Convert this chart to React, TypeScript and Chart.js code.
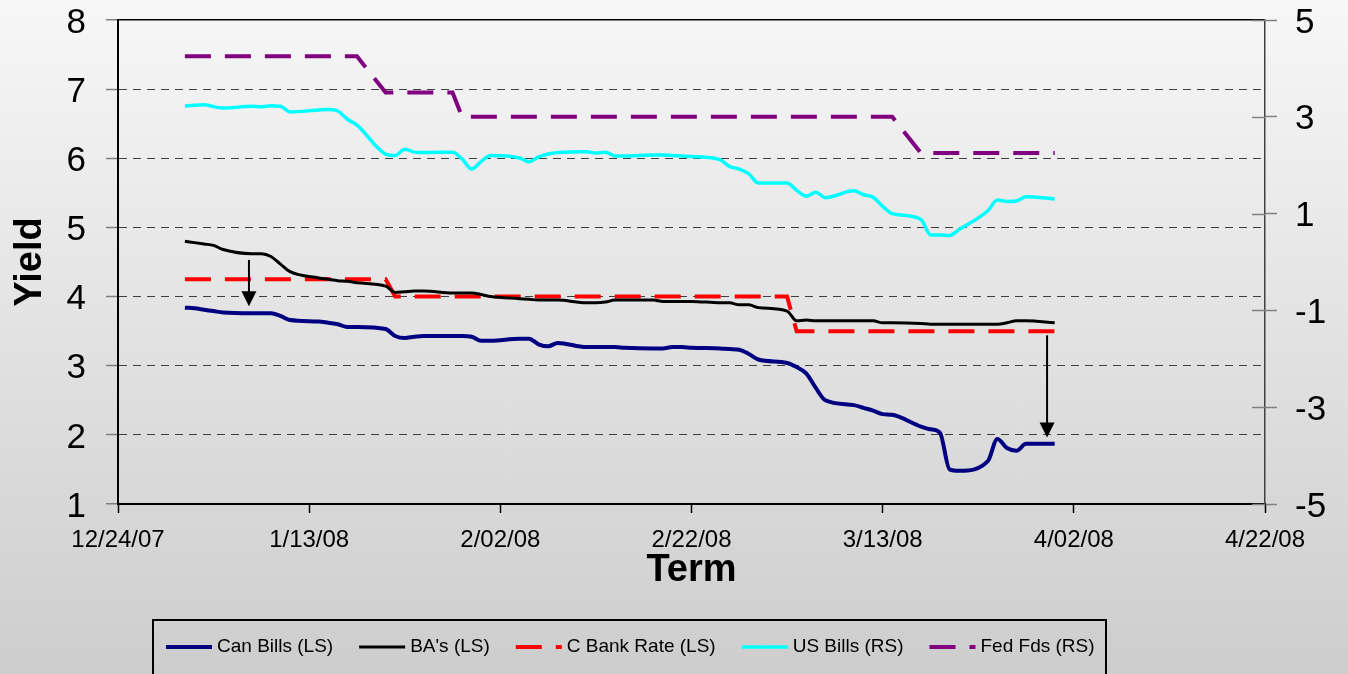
import React, { useEffect, useRef } from 'react';
import { Chart, registerables } from 'chart.js';

Chart.register(...registerables);

// ---------- data ----------
const BASE_DATE = '12/24/07';

const curveDates = [
  '12/31/07', '1/01/08', '1/02/08', '1/03/08', '1/04/08',
  '1/07/08', '1/08/08', '1/09/08', '1/10/08', '1/11/08',
  '1/14/08', '1/15/08', '1/16/08', '1/17/08', '1/18/08',
  '1/21/08', '1/22/08', '1/23/08', '1/24/08', '1/25/08',
  '1/28/08', '1/29/08', '1/30/08', '1/31/08', '2/01/08',
  '2/04/08', '2/05/08', '2/06/08', '2/07/08', '2/08/08',
  '2/11/08', '2/12/08', '2/13/08', '2/14/08', '2/15/08',
  '2/18/08', '2/19/08', '2/20/08', '2/21/08', '2/22/08',
  '2/25/08', '2/26/08', '2/27/08', '2/28/08', '2/29/08',
  '3/03/08', '3/04/08', '3/05/08', '3/06/08', '3/07/08',
  '3/10/08', '3/11/08', '3/12/08', '3/13/08', '3/14/08',
  '3/17/08', '3/18/08', '3/19/08', '3/20/08', '3/21/08',
  '3/24/08', '3/25/08', '3/26/08', '3/27/08', '3/28/08',
  '3/31/08',
];

const canBills = [
  3.84, 3.83, 3.81, 3.79, 3.77,
  3.76, 3.76, 3.76, 3.72, 3.66,
  3.64, 3.62, 3.6, 3.56, 3.56,
  3.53, 3.43, 3.4, 3.42, 3.43,
  3.43, 3.43, 3.42, 3.36, 3.36,
  3.39, 3.39, 3.31, 3.28, 3.33,
  3.27, 3.27, 3.27, 3.27, 3.26,
  3.25, 3.25, 3.27, 3.27, 3.26,
  3.25, 3.24, 3.23, 3.17, 3.09,
  3.04, 2.98, 2.89, 2.68, 2.5,
  2.43, 2.39, 2.35, 2.3, 2.29,
  2.12, 2.08, 2.03, 1.5, 1.48,
  1.62, 1.94, 1.81, 1.77, 1.87,
  1.87,
];

const bas = [
  4.8, 4.78, 4.76, 4.74, 4.68,
  4.62, 4.62, 4.58, 4.47, 4.36,
  4.27, 4.25, 4.23, 4.22, 4.2,
  4.15, 4.06, 4.07, 4.08, 4.08,
  4.05, 4.05, 4.05, 4.03, 4.0,
  3.97, 3.96, 3.95, 3.95, 3.95,
  3.91, 3.91, 3.92, 3.95, 3.95,
  3.95, 3.93, 3.93, 3.93, 3.93,
  3.91, 3.91, 3.88, 3.88, 3.84,
  3.79, 3.65, 3.66, 3.65, 3.65,
  3.65, 3.65, 3.65, 3.62, 3.62,
  3.61, 3.6, 3.6, 3.6, 3.6,
  3.6, 3.6, 3.62, 3.65, 3.65,
  3.62,
];

const usBills = [
  3.22, 3.24, 3.25, 3.21, 3.18,
  3.22, 3.21, 3.23, 3.22, 3.1,
  3.14, 3.15, 3.12, 2.95, 2.83,
  2.23, 2.2, 2.33, 2.27, 2.26,
  2.27, 2.13, 1.92, 2.08, 2.2,
  2.15, 2.07, 2.17, 2.23, 2.26,
  2.28, 2.25, 2.27, 2.19, 2.19,
  2.21, 2.21, 2.2, 2.19, 2.18,
  2.11, 1.97, 1.92, 1.82, 1.63,
  1.63, 1.48, 1.36, 1.44, 1.33,
  1.47, 1.39, 1.34, 1.15, 1.0,
  0.88, 0.56, 0.56, 0.55, 0.67,
  1.06, 1.28, 1.25, 1.26, 1.35,
  1.3,
];

const bankRateDates = ['12/31/07', '1/21/08', '1/22/08', '3/03/08', '3/04/08', '3/31/08'];
const bankRate = [4.25, 4.25, 4.0, 4.0, 3.5, 3.5];

const fedDates = ['12/31/07', '1/18/08', '1/21/08', '1/28/08', '1/29/08', '3/14/08', '3/17/08', '3/31/08'];
const fedFunds = [4.25, 4.25, 3.5, 3.5, 3.0, 3.0, 2.25, 2.25];

const xTickLabels = ['12/24/07', '1/13/08', '2/02/08', '2/22/08', '3/13/08', '4/02/08', '4/22/08'];

// annotation arrows (x in days after base date, y on left scale)
const arrowDays = [13.7, 97.2];
const arrowFrom = [4.53, 3.44];
const arrowTo = [3.86, 1.96];

// ---------- helpers ----------
const parseDate = (s: string) => {
  const [m, d, y] = s.split('/').map(Number);
  return Date.UTC(2000 + y, m - 1, d);
};
const toDay = (s: string) => (parseDate(s) - parseDate(BASE_DATE)) / 86400000;
const pts = (dates: string[], vals: number[]) => dates.map((d, i) => ({ x: toDay(d), y: vals[i] }));

const FONT = '"Liberation Sans", Arial, sans-serif';

const extrasPlugin = {
  id: 'extras',
  afterDatasetsDraw(chart: any) {
    const { ctx, scales, chartArea } = chart;
    const x = scales.x;
    const y = scales.y;
    ctx.save();
    ctx.strokeStyle = '#000';
    ctx.fillStyle = '#000';
    ctx.lineWidth = 2;
    arrowDays.forEach((d, i) => {
      const px = x.getPixelForValue(d);
      const top = y.getPixelForValue(arrowFrom[i]);
      const tip = y.getPixelForValue(arrowTo[i]);
      ctx.beginPath();
      ctx.moveTo(px, top);
      ctx.lineTo(px, tip - 12);
      ctx.stroke();
      ctx.beginPath();
      ctx.moveTo(px - 7.5, tip - 15);
      ctx.lineTo(px + 7.5, tip - 15);
      ctx.lineTo(px, tip);
      ctx.closePath();
      ctx.fill();
    });
    // inner tick marks of right axis
    const y2 = scales.y2;
    ctx.strokeStyle = '#808080';
    ctx.lineWidth = 1.5;
    y2.ticks.forEach((t: any) => {
      const py = Math.round(y2.getPixelForValue(t.value)) + 0.5;
      ctx.beginPath();
      ctx.moveTo(chartArea.right - 13, py);
      ctx.lineTo(chartArea.right, py);
      ctx.stroke();
    });
    ctx.restore();
  },
  afterDraw(chart: any) {
    const { ctx } = chart;
    ctx.save();
    // legend box
    ctx.strokeStyle = '#000';
    ctx.lineWidth = 2;
    ctx.strokeRect(153, 620, 953, 80);
    ctx.font = `19px ${FONT}`;
    ctx.textBaseline = 'middle';
    ctx.textAlign = 'left';
    let cx = 166;
    const cy = 647;
    chart.data.datasets.forEach((ds: any) => {
      ctx.save();
      ctx.strokeStyle = ds.borderColor;
      ctx.lineWidth = ds.borderWidth;
      ctx.setLineDash(ds.borderDash || []);
      ctx.lineCap = 'butt';
      ctx.beginPath();
      ctx.moveTo(cx, cy);
      ctx.lineTo(cx + 46, cy);
      ctx.stroke();
      ctx.restore();
      ctx.fillStyle = '#000';
      ctx.fillText(ds.label, cx + 51, cy);
      cx += 51 + ctx.measureText(ds.label).width + 26;
    });
    ctx.restore();
  },
};

export default function App() {
  const ref = useRef<HTMLCanvasElement | null>(null);

  useEffect(() => {
    document.body.style.margin = '0';
    Chart.defaults.font.family = FONT;
    Chart.defaults.color = '#000';
    const canvas = ref.current;
    if (!canvas) return;

    const isSolid = (ctx: any) => ctx.tick && (ctx.tick.value === 8 || ctx.tick.value === 1);
    const fitY = (w: number) => (s: any) => {
      s.width = w;
      s.paddingTop = 0;
      s.paddingBottom = 0;
    };

    const chart = new Chart(canvas, {
      type: 'line',
      data: {
        datasets: [
          {
            label: 'Can Bills (LS)',
            data: pts(curveDates, canBills),
            borderColor: '#000080',
            borderWidth: 4,
            yAxisID: 'y',
            cubicInterpolationMode: 'monotone',
          },
          {
            label: "BA's (LS)",
            data: pts(curveDates, bas),
            borderColor: '#000000',
            borderWidth: 3,
            yAxisID: 'y',
            cubicInterpolationMode: 'monotone',
          },
          {
            label: 'C Bank Rate (LS)',
            data: pts(bankRateDates, bankRate),
            borderColor: '#ff0000',
            borderWidth: 4,
            borderDash: [26, 14],
            yAxisID: 'y',
            tension: 0,
          },
          {
            label: 'US Bills (RS)',
            data: pts(curveDates, usBills),
            borderColor: '#00ffff',
            borderWidth: 3.5,
            yAxisID: 'y2',
            cubicInterpolationMode: 'monotone',
          },
          {
            label: 'Fed Fds (RS)',
            data: pts(fedDates, fedFunds),
            borderColor: '#800080',
            borderWidth: 4,
            borderDash: [26, 14],
            yAxisID: 'y2',
            tension: 0,
          },
        ] as any,
      },
      options: {
        animation: false,
        responsive: false,
        events: [],
        elements: { point: { radius: 0 }, line: { borderCapStyle: 'butt' } },
        layout: { padding: { top: 20, bottom: 70, left: 0, right: 0 } },
        plugins: { legend: { display: false }, tooltip: { enabled: false } },
        scales: {
          x: {
            type: 'linear',
            min: 0,
            max: 120,
            afterFit: (s: any) => { s.height = 100; },
            ticks: {
              stepSize: 20,
              autoSkip: false,
              maxRotation: 0,
              font: { size: 24 },
              padding: 13,
              callback: (_v: any, i: number) => xTickLabels[i],
            },
            grid: { drawOnChartArea: false, tickLength: 9, tickColor: '#000', tickWidth: 1.5 },
            border: { color: '#000', width: 2 },
            title: {
              display: true,
              text: 'Term',
              font: { size: 38, weight: 'bold' },
              padding: { top: 0, bottom: 11 },
            },
          },
          y: {
            position: 'left',
            min: 1,
            max: 8,
            afterFit: fitY(118),
            ticks: { stepSize: 1, font: { size: 35, lineHeight: 1 }, padding: 20, labelOffset: 3 },
            grid: {
              color: (c: any) => (isSolid(c) ? '#000' : '#404040'),
              lineWidth: (c: any) => (isSolid(c) ? 1.5 : 1),
              tickLength: 12,
              tickColor: '#808080',
              tickWidth: 1.5,
            },
            border: {
              color: '#000',
              width: 2,
              dash: (c: any) => (isSolid(c) ? [] : [8, 6]),
            },
            title: {
              display: true,
              text: 'Yield',
              font: { size: 38, weight: 'bold' },
              padding: { top: 8, bottom: 0 },
            },
          },
          y2: {
            position: 'right',
            min: -5,
            max: 5,
            afterFit: fitY(83),
            ticks: { stepSize: 2, font: { size: 35, lineHeight: 1 }, padding: 18, labelOffset: 3 },
            grid: { drawOnChartArea: false, tickLength: 12, tickColor: '#808080', tickWidth: 1.5 },
            border: { color: '#404040', width: 1.5 },
          },
        },
      } as any,
      plugins: [extrasPlugin],
    });

    return () => chart.destroy();
  }, []);

  return (
    <canvas
      ref={ref}
      width={1348}
      height={674}
      style={{
        display: 'block',
        width: 1348,
        height: 674,
        background: 'linear-gradient(#f7f7f7, #cdcdcd)',
      }}
    />
  );
}
